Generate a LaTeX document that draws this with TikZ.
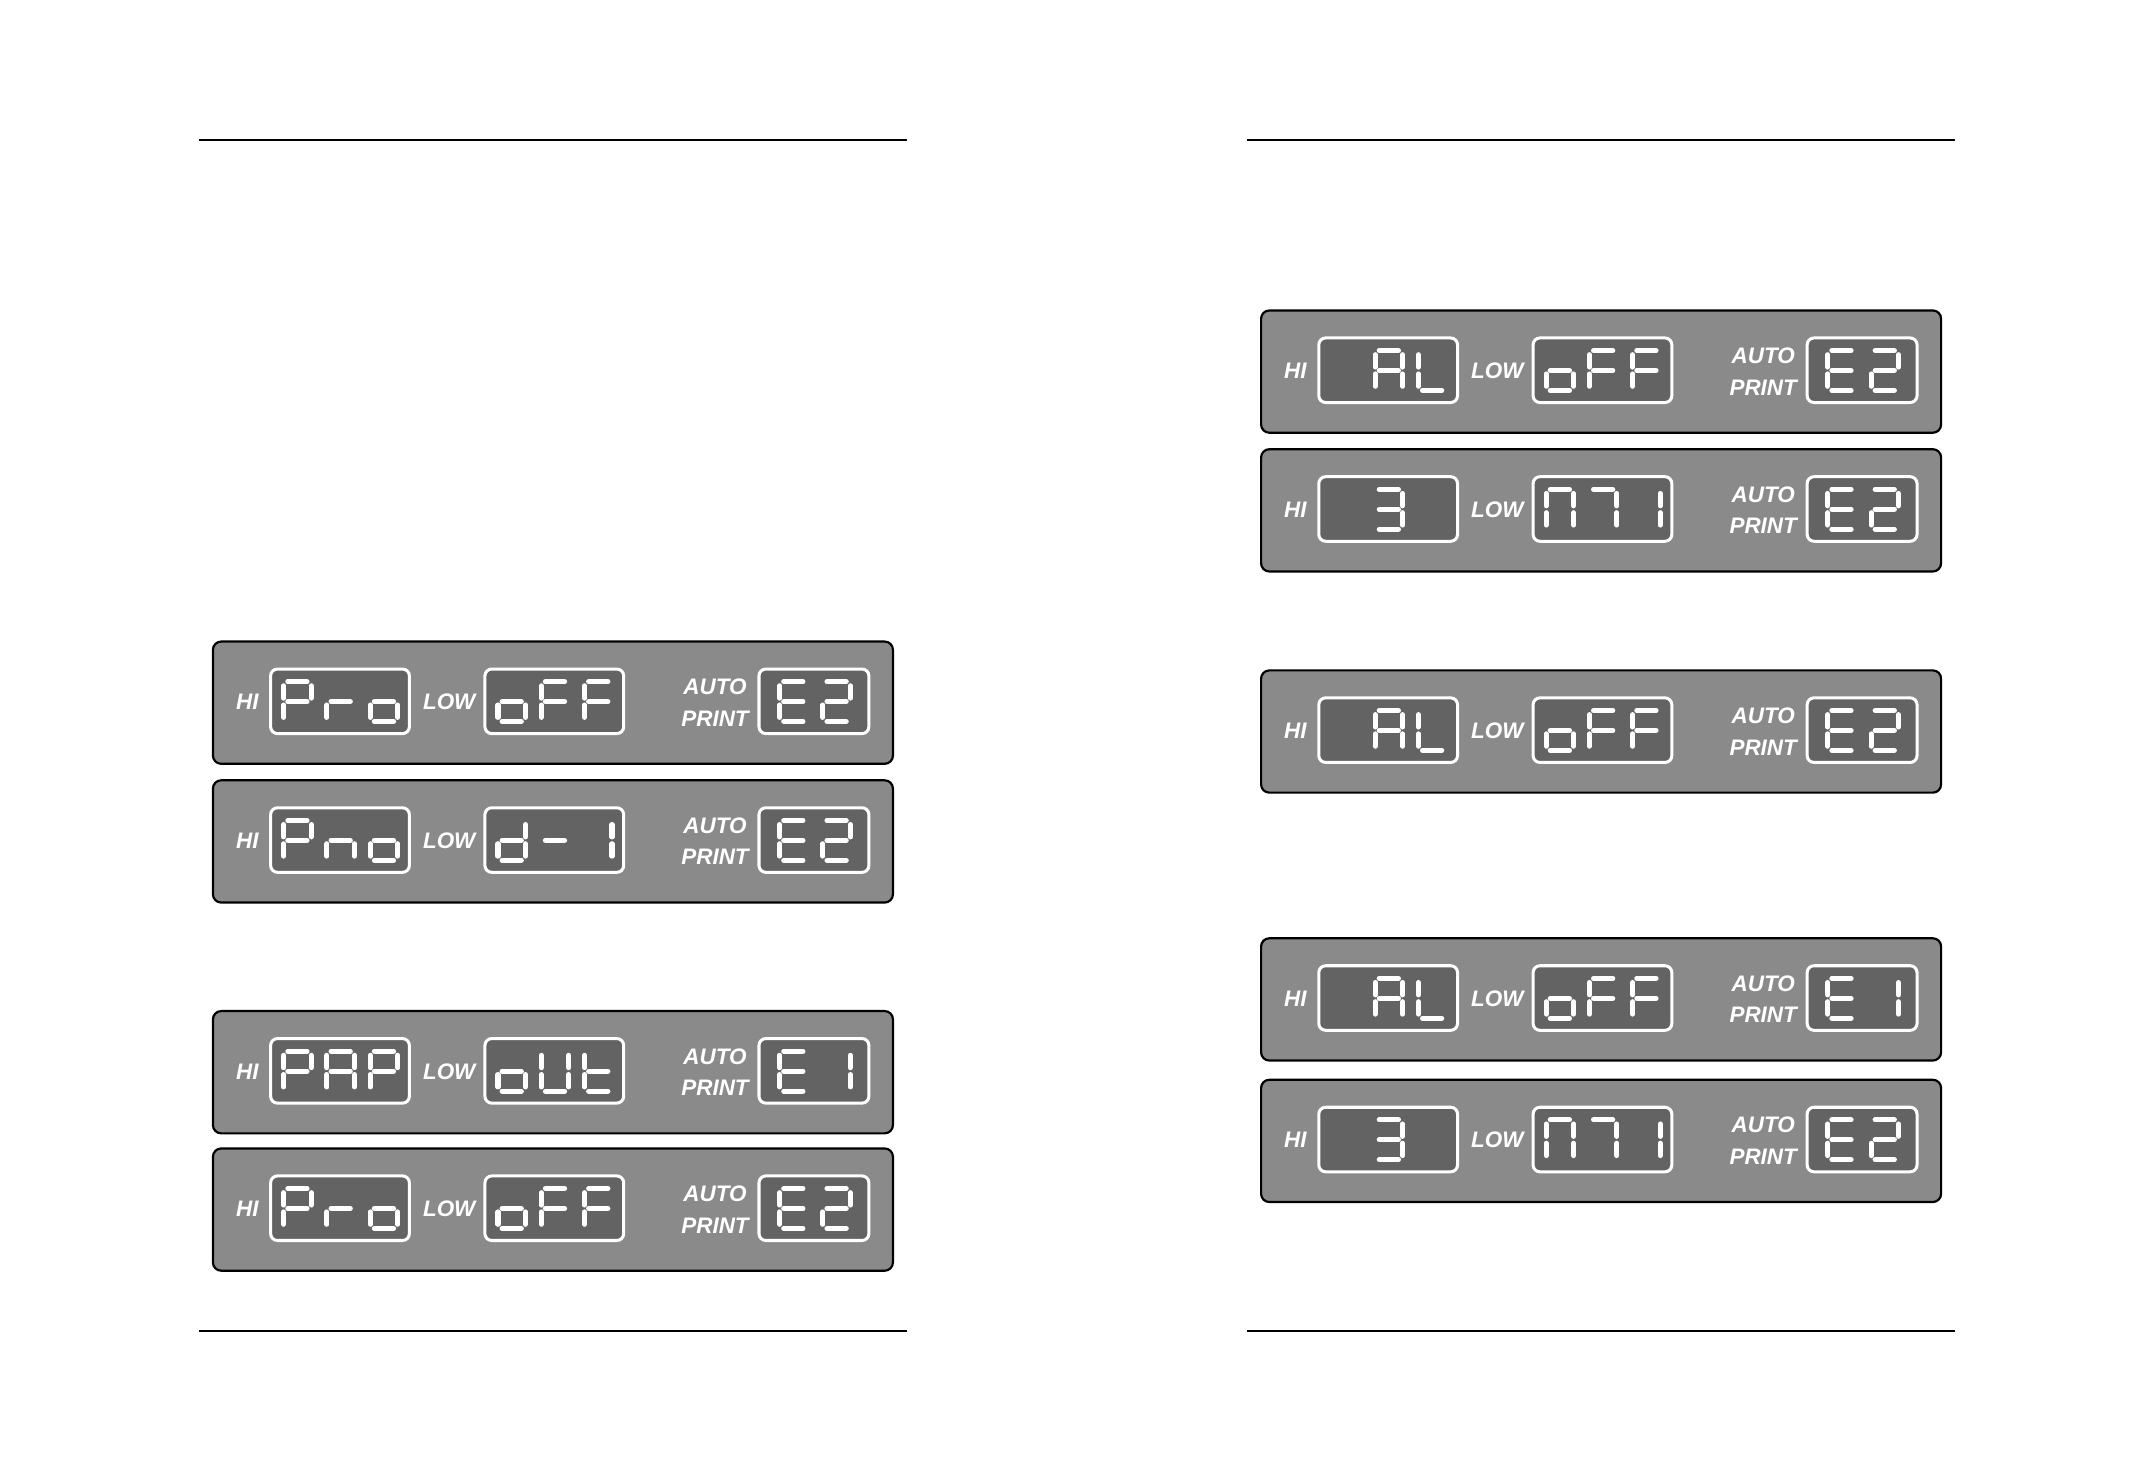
\documentclass[tikz,border=0pt]{standalone}
\usepackage{fontspec}
\setmainfont{Liberation Sans}
\usetikzlibrary{positioning}
\definecolor{panelgray}{RGB}{138,138,138}
\definecolor{lcdgray}{RGB}{99,99,99}

% one segment of a digit cell, 20 wide and 29 high
\newcommand{\sga}{\draw[seg] (3,0) -- (17,0);}
\newcommand{\sgb}{\draw[seg] (20,3) -- (20,12);}
\newcommand{\sgc}{\draw[seg] (20,17) -- (20,26);}
\newcommand{\sgd}{\draw[seg] (3,29) -- (17,29);}
\newcommand{\sge}{\draw[seg] (0,17) -- (0,26);}
\newcommand{\sgf}{\draw[seg] (0,3) -- (0,12);}
\newcommand{\sgg}{\draw[seg] (3,14.5) -- (17,14.5);}
\newcommand{\sgz}{}

% characters as lists of lit segments
\newcommand{\dgP}{a,b,e,f,g}
\newcommand{\dgr}{e,g}
\newcommand{\dgo}{c,d,e,g}
\newcommand{\dgF}{a,e,f,g}
\newcommand{\dgn}{c,e,g}
\newcommand{\dgd}{b,c,d,e,g}
\newcommand{\dgdash}{g}
\newcommand{\dgone}{b,c}
\newcommand{\dgA}{a,b,c,e,f,g}
\newcommand{\dgL}{d,e,f}
\newcommand{\dgthree}{a,b,c,d,g}
\newcommand{\dgarch}{a,b,c,e,f}
\newcommand{\dgseven}{a,b,c}
\newcommand{\dgE}{a,d,e,f,g}
\newcommand{\dgtwo}{a,b,d,e,g}
\newcommand{\dgU}{b,c,d,e,f}
\newcommand{\dgt}{d,e,f,g}
\newcommand{\dgblank}{z}

\newcommand{\lcdchar}[3]{%
  \begin{scope}[shift={(#1,#2)}]
    \foreach \s in #3 {\csname sg\s\endcsname}
  \end{scope}}

% #1 name, #2 top left corner, #3-#5 HI, #6-#8 LOW, #9 second PRINT digit
\newcommand{\lcdpanel}[9]{%
  \begin{scope}[shift={(#2)}]
    \draw[panelbox] (0,0) rectangle (495,89);
    \node[lbl] (#1-hi) at (25,44) {HI};
    \draw[lcdbox] (42,20) rectangle (143,67);
    \lcdchar{51.5}{29.2}{#3}\lcdchar{83}{29.2}{#4}\lcdchar{114.5}{29.2}{#5}
    \node[lbl] (#1-low) at (172,44) {LOW};
    \draw[lcdbox] (198,20) rectangle (299,67);
    \lcdchar{207.5}{29.2}{#6}\lcdchar{239}{29.2}{#7}\lcdchar{270.5}{29.2}{#8}
    \node[lbl] (#1-auto) at (365.5,33) {AUTO};
    \node[lbl] (#1-print) at (365.5,56) {PRINT};
    \draw[lcdbox] (397.5,20) rectangle (477.5,67);
    \lcdchar{412.5}{29.2}{\dgE}\lcdchar{444}{29.2}{#9}
  \end{scope}}

\begin{document}
\begin{tikzpicture}[x=0.02cm,y=-0.02cm,
    panelbox/.style={draw=black,fill=panelgray,line width=0.9pt,rounded corners=0.12cm},
    lcdbox/.style={draw=white,fill=lcdgray,line width=1.25pt,rounded corners=0.1cm},
    seg/.style={white,line width=2.1pt,line cap=round},
    lbl/.style={text=white,inner sep=0pt,font=\fontsize{9.3}{9.3}\selectfont\bfseries\itshape},
    rule/.style={black,line width=1.1pt}]
  \useasboundingbox (0,0) rectangle (1568,1073);

  % page rules
  \draw[rule] (145,102) -- (660,102);
  \draw[rule] (908,102) -- (1423,102);
  \draw[rule] (145,969) -- (660,969);
  \draw[rule] (908,969) -- (1423,969);

  % left page
  \lcdpanel{l1}{155,467}{\dgP}{\dgr}{\dgo}{\dgo}{\dgF}{\dgF}{\dgtwo}
  \lcdpanel{l2}{155,568}{\dgP}{\dgn}{\dgo}{\dgd}{\dgdash}{\dgone}{\dgtwo}
  \lcdpanel{l3}{155,736}{\dgP}{\dgA}{\dgP}{\dgo}{\dgU}{\dgt}{\dgone}
  \lcdpanel{l4}{155,836}{\dgP}{\dgr}{\dgo}{\dgo}{\dgF}{\dgF}{\dgtwo}

  % right page
  \lcdpanel{r1}{918,226}{\dgblank}{\dgA}{\dgL}{\dgo}{\dgF}{\dgF}{\dgtwo}
  \lcdpanel{r2}{918,327}{\dgblank}{\dgthree}{\dgblank}{\dgarch}{\dgseven}{\dgone}{\dgtwo}
  \lcdpanel{r3}{918,488}{\dgblank}{\dgA}{\dgL}{\dgo}{\dgF}{\dgF}{\dgtwo}
  \lcdpanel{r4}{918,683}{\dgblank}{\dgA}{\dgL}{\dgo}{\dgF}{\dgF}{\dgone}
  \lcdpanel{r5}{918,786}{\dgblank}{\dgthree}{\dgblank}{\dgarch}{\dgseven}{\dgone}{\dgtwo}
\end{tikzpicture}
\end{document}
